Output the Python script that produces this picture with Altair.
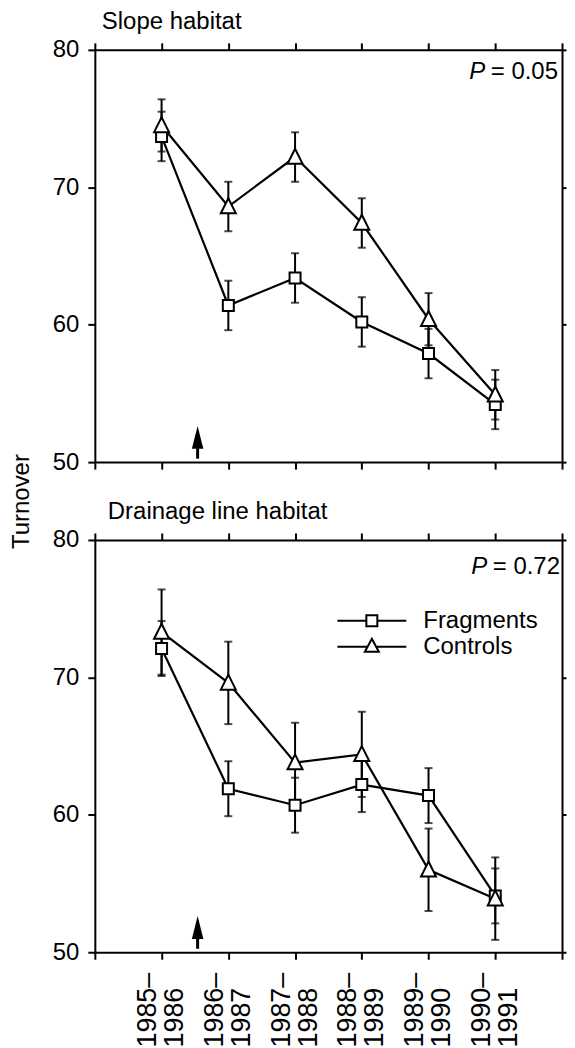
import json
import altair as alt
import pandas as pd

FONT = "Liberation Sans"

# ---- data ----
period_start = ["1985–", "1986–", "1987–", "1988–", "1989–", "1990–"]
period_end = ["1986", "1987", "1988", "1989", "1990", "1991"]
series_names = ["Fragments", "Controls"]

slope_frag_mean = [73.7, 61.4, 63.4, 60.2, 57.9, 54.2]
slope_frag_err = [1.8, 1.8, 1.8, 1.8, 1.8, 1.8]
slope_ctrl_mean = [74.5, 68.6, 72.2, 67.4, 60.4, 54.9]
slope_ctrl_err = [1.9, 1.8, 1.8, 1.8, 1.9, 1.8]

drain_frag_mean = [72.1, 61.9, 60.7, 62.2, 61.4, 54.1]
drain_frag_err = [2.0, 2.0, 2.0, 2.0, 2.0, 2.0]
drain_ctrl_mean = [73.3, 69.6, 63.8, 64.4, 56.0, 53.9]
drain_ctrl_err = [3.1, 3.0, 2.9, 3.1, 3.0, 3.0]

p_values = ["0.05", "0.72"]
panel_titles = ["Slope habitat", "Drainage line habitat"]

# arrow marking fragment isolation (x position in period units, y values)
arrow_x = [1.54]
arrow_tail = [50.25]
arrow_base = [51.0]
arrow_tip = [52.6]


def make_df(fm, fe, cm, ce):
    rows = []
    for i in range(len(fm)):
        rows.append(dict(x=i + 1, series="Fragments", mean=fm[i], lo=fm[i] - fe[i], hi=fm[i] + fe[i]))
        rows.append(dict(x=i + 1, series="Controls", mean=cm[i], lo=cm[i] - ce[i], hi=cm[i] + ce[i]))
    return pd.DataFrame(rows)


slope_df = make_df(slope_frag_mean, slope_frag_err, slope_ctrl_mean, slope_ctrl_err)
drain_df = make_df(drain_frag_mean, drain_frag_err, drain_ctrl_mean, drain_ctrl_err)
arrow_df = pd.DataFrame(dict(x=arrow_x, tail=arrow_tail, base=arrow_base, tip=arrow_tip))

W, H = 468, 413
xscale = alt.Scale(domain=[0, 7], nice=False, zero=False)
yscale = alt.Scale(domain=[50, 80], nice=False, zero=False)

label_expr = (
    "datum.value >= 1 && datum.value <= 6 ? "
    f"[{json.dumps(period_start)}[datum.value - 1], {json.dumps(period_end)}[datum.value - 1]] : ''"
)

TRI = "M0,-1.1L1,0.9L-1,0.9Z"
LEG_SQ = "M-6.9,0H-1.1M1.1,0H6.9M-1.1,-1.1H1.1V1.1H-1.1Z"
LEG_TRI = "M-6.9,0H-0.9M0.9,0H6.9M0,-1.6L1.4,1L-1.4,1Z"
HEAD = "M0,-1L0.5,1L-0.5,1Z"


def panel(df, title, title_dx, pval, p_right, p_y, xlabels, ytitle, legend):
    base = alt.Chart(df)

    bottom_axis = alt.Axis(
        orient="bottom", values=list(range(8)), labels=xlabels, tickSize=7, title=None,
        labelExpr=label_expr, labelAngle=-90, labelAlign="left", labelBaseline="middle",
        labelPadding=88, labelLineHeight=27, labelOffset=-14, labelOverlap=False, labelFlush=False,
        labelBound=False,
        labelFontSize={"condition": {"test": "datum.value < 1 || datum.value > 6", "value": 0}, "value": 27},
    )
    if ytitle:
        left_axis = alt.Axis(
            orient="left", values=[50, 60, 70, 80], tickSize=7, labelPadding=9,
            title="Turnover", titleX=-66, titleY=452, titleAngle=270, titleAlign="center",
            titleBaseline="alphabetic", titleFontSize=24, titleFont=FONT, titleFontWeight="normal",
        )
    else:
        left_axis = alt.Axis(orient="left", values=[50, 60, 70, 80], tickSize=7, labelPadding=9, title=None)

    lines = base.mark_line(color="black", strokeWidth=2.2).encode(
        x=alt.X("x:Q", scale=xscale, axis=bottom_axis),
        y=alt.Y("mean:Q", scale=yscale, axis=left_axis),
        detail="series:N",
    )
    rules = base.mark_rule(color="black", strokeWidth=2).encode(
        x=alt.X("x:Q", scale=xscale,
                axis=alt.Axis(orient="top", values=list(range(8)), labels=False, tickSize=7, title=None)),
        y=alt.Y("lo:Q", scale=yscale,
                axis=alt.Axis(orient="right", values=[50, 60, 70, 80], labels=False, tickSize=4, title=None)),
        y2="hi:Q",
    )
    cap_lo = base.mark_tick(orient="horizontal", color="black", size=8, thickness=2).encode(
        x=alt.X("x:Q", scale=xscale, axis=None), y=alt.Y("lo:Q", scale=yscale, axis=None))
    cap_hi = base.mark_tick(orient="horizontal", color="black", size=8, thickness=2).encode(
        x=alt.X("x:Q", scale=xscale, axis=None), y=alt.Y("hi:Q", scale=yscale, axis=None))
    squares = base.transform_filter(alt.datum.series == "Fragments").mark_point(
        shape="square", size=121, filled=True, fill="white", stroke="black", strokeWidth=2, opacity=1
    ).encode(x=alt.X("x:Q", scale=xscale, axis=None), y=alt.Y("mean:Q", scale=yscale, axis=None))
    tris = base.transform_filter(alt.datum.series == "Controls").mark_point(
        shape=TRI, size=225, filled=True, fill="white", stroke="black", strokeWidth=2, opacity=1
    ).encode(x=alt.X("x:Q", scale=xscale, axis=None), y=alt.Y("mean:Q", scale=yscale, axis=None))

    arr = alt.Chart(arrow_df)
    stem = arr.mark_rule(color="black", strokeWidth=3).encode(
        x=alt.X("x:Q", scale=xscale, axis=None),
        y=alt.Y("tail:Q", scale=yscale, axis=None),
        y2="base:Q",
    )
    head = arr.transform_calculate(mid="(datum.tip + datum.base) / 2").mark_point(
        shape=HEAD, size=529, filled=True, color="black", opacity=1, strokeWidth=0
    ).encode(x=alt.X("x:Q", scale=xscale, axis=None), y=alt.Y("mid:Q", scale=yscale, axis=None))

    tdf = alt.Chart(pd.DataFrame({"t": [title], "p": [pval]}))
    ttl = tdf.mark_text(align="left", baseline="top", font=FONT, fontSize=24, color="black").encode(
        x=alt.value(title_dx), y=alt.value(-40), text="t:N")
    p_num = tdf.transform_calculate(label="'= ' + datum.p").mark_text(
        align="right", baseline="alphabetic", font=FONT, fontSize=24, color="black").encode(
        x=alt.value(W - p_right), y=alt.value(p_y), text="label:N")
    p_it = tdf.mark_text(align="right", baseline="alphabetic", font=FONT, fontSize=24, fontStyle="italic",
                         color="black").encode(
        x=alt.value(W - p_right - 73), y=alt.value(p_y), text=alt.value("P"))

    layers = [lines, rules, cap_lo, cap_hi, stem, head, squares, tris, ttl, p_num, p_it]

    if legend:
        leg = base.transform_filter("false").mark_point(
            filled=False, color="black", strokeWidth=2, opacity=1).encode(
            x=alt.X("x:Q", scale=xscale, axis=None),
            y=alt.Y("mean:Q", scale=yscale, axis=None),
            shape=alt.Shape(
                "series:N",
                scale=alt.Scale(domain=series_names, range=[LEG_SQ, LEG_TRI]),
                legend=alt.Legend(
                    title=None, orient="none", legendX=265.5, legendY=69, padding=0,
                    labelFont=FONT, labelFontSize=24, labelColor="black", labelOffset=39.5,
                    symbolSize=100, symbolStrokeWidth=2, symbolStrokeColor="black",
                    symbolOpacity=1, rowPadding=2,
                ),
            ),
        )
        layers.append(leg)

    return alt.layer(*layers).resolve_axis(x="independent", y="independent").properties(width=W, height=H)


top = panel(slope_df, panel_titles[0], 7, p_values[0], 4, 29, False, True, False)
bottom = panel(drain_df, panel_titles[1], 13, p_values[1], 2, 34, True, False, True)

chart = alt.vconcat(top, bottom, spacing=78, bounds="flush").resolve_legend(shape="independent").properties(
    padding={"left": 2, "top": 1, "right": 0, "bottom": 0}
).configure_view(stroke=None).configure_axis(
    domainColor="black", domainWidth=2, tickColor="black", tickWidth=2, grid=False,
    labelColor="black", labelFont=FONT, labelFontSize=24,
)

chart.save("out.html", embed_options={"renderer": "svg", "actions": False})
